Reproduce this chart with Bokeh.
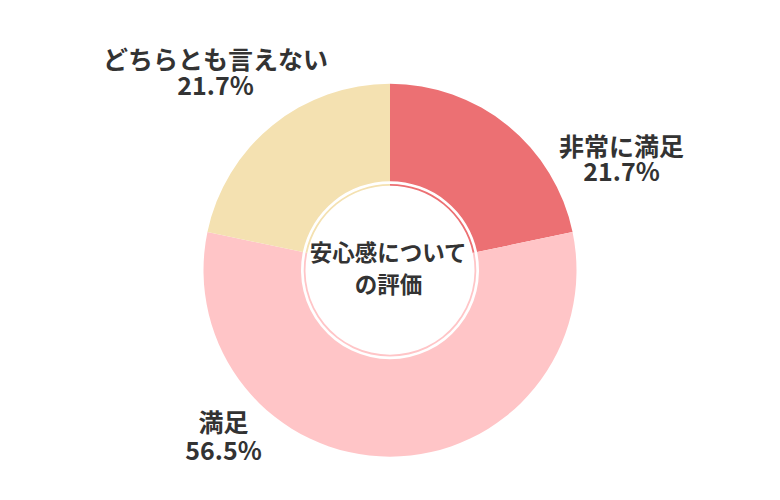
import math

from bokeh.plotting import figure
from bokeh.models import Range1d, ColumnDataSource
from bokeh.core.properties import value
from bokeh.embed import file_html
from bokeh.resources import INLINE

# data
categories = ["非常に満足", "満足", "どちらとも言えない"]
shares = [21.7, 56.5, 21.7]
colors = ["#EC7073", "#FFC5C7", "#F4E1B1"]
center_lines = ["安心感について", "の評価"]

FONT = "Noto Sans CJK JP"
W, H = 764, 484


# screen pixel coords -> data coords (y up)
def px(x, y):
    return x, 500 - y


cx, cy = px(389.5, 269.7)

total = sum(shares)
starts, ends = [], []
acc = 0.0
for s in shares:
    starts.append(math.pi / 2 - 2 * math.pi * acc / total)
    acc += s
    ends.append(math.pi / 2 - 2 * math.pi * acc / total)

src = ColumnDataSource(dict(cat=categories, share=shares, color=colors,
                            start=starts, end=ends))

p = figure(width=W, height=H, output_backend="svg", toolbar_location=None,
           tools="", x_range=Range1d(0, W), y_range=Range1d(500 - H, 500),
           min_border=0, outline_line_color=None)
p.axis.visible = False
p.grid.visible = False

p.annular_wedge(x=cx, y=cy, inner_radius=89, outer_radius=186.5,
                start_angle="start", end_angle="end", direction="clock",
                color="color", line_color=None, source=src)
p.annular_wedge(x=cx, y=cy, inner_radius=84.5, outer_radius=86.3,
                start_angle="start", end_angle="end", direction="clock",
                color="color", line_color=None, source=src)

# outside labels: (x, name line y, value line y) in screen pixels
label_pos = [(621, 144, 169.5), (223, 420, 448.5), (215, 57.5, 83.5)]
lx = [q[0] for q in label_pos]
ny = [px(0, q[1])[1] for q in label_pos]
vy = [px(0, q[2])[1] for q in label_pos]
style = dict(text_font=value(FONT), text_font_style="bold",
             text_color="#333333", text_align="center", text_baseline="middle")
p.text(x=lx, y=ny, text=categories, text_font_size="25px", **style)
p.text(x=lx, y=vy, text=[f"{s:.1f}%" for s in shares],
       text_font_size="25px", **style)

p.text(x=[388, 388], y=[px(0, 250)[1], px(0, 282)[1]], text=center_lines,
       text_font_size="22.5px", **style)

open("out.html", "w").write(file_html(p, INLINE))
